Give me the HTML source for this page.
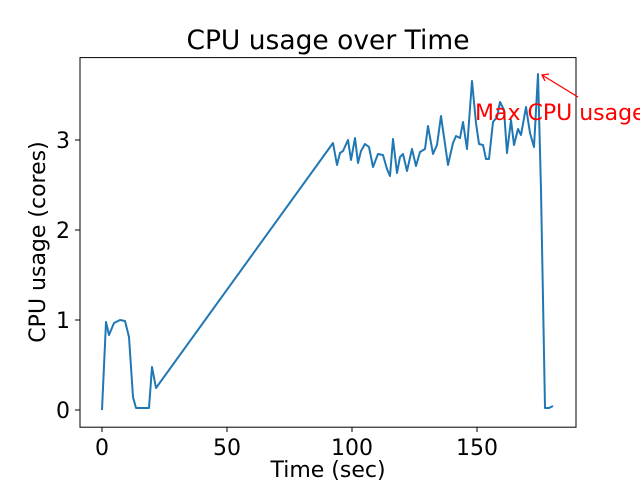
<!DOCTYPE html>
<html><head><style>body{margin:0;background:#fff}svg{display:block}text{font-family:"DejaVu Sans","Liberation Sans",sans-serif}</style></head>
<body>
<svg width="640" height="480" xmlns="http://www.w3.org/2000/svg">
<rect width="640" height="480" fill="#fff"/>
<defs><clipPath id="c"><rect x="80" y="57.6" width="496" height="369.6"/></clipPath></defs>
<polyline clip-path="url(#c)" fill="none" stroke="#1f77b4" stroke-width="2" stroke-linejoin="round" points="102,410 106,322 109,335 114,323 120,320 125,321 129,337 133,397 136,408 149,408 152,367 156,388 333,143 337,165 340,153 343,151 348,140 351,160 355,138 358,163 361,151 365,144 369,147 373,167 378,154 383,155 387,169 390,176 393,139 397,173 400,157 403,154 407,171 412,149 416,166 420,152 425,149 428,126 433,154 437,145 441,116 448,165 453,143 456,136 460,138 463,122 467,149 472,81 476,123 479,144 483,145 486,159 489,159 493,122 497,117 500,102 504,110 507,153 511,120 514,145 518,129 521,135 526,107 530,133 534,147 538,74 541,190 545,408 549,408 553,406"/>
<rect x="80" y="57.6" width="496" height="369.6" fill="none" stroke="#000" stroke-width="1"/>
<g stroke="#000" stroke-width="1">
<line x1="102" y1="427" x2="102" y2="432"/><line x1="227" y1="427" x2="227" y2="432"/><line x1="352" y1="427" x2="352" y2="432"/><line x1="477" y1="427" x2="477" y2="432"/>
<line x1="80" y1="410" x2="75" y2="410"/><line x1="80" y1="320" x2="75" y2="320"/><line x1="80" y1="230" x2="75" y2="230"/><line x1="80" y1="140" x2="75" y2="140"/>
</g>
<g font-size="22" text-anchor="middle" fill="#000">
<text x="102" y="455">0</text><text x="227" y="455">50</text><text x="352" y="455">100</text><text x="477" y="455">150</text>
</g>
<g font-size="22" text-anchor="end" fill="#000">
<text x="70" y="418">0</text><text x="70" y="328">1</text><text x="70" y="238">2</text><text x="70" y="148">3</text>
</g>
<text x="328" y="477" font-size="22" text-anchor="middle">Time (sec)</text>
<text transform="translate(45,242) rotate(-90)" font-size="22" text-anchor="middle">CPU usage (cores)</text>
<text x="328" y="49" font-size="26.5" text-anchor="middle">CPU usage over Time</text>
<line x1="578" y1="97" x2="542" y2="75" stroke="red" stroke-width="1.3"/>
<polyline points="549,74 542,75 545,81" fill="none" stroke="red" stroke-width="1.3"/>
<text x="475" y="120" font-size="22" fill="red">Max CPU usage</text>
</svg>
</body></html>
